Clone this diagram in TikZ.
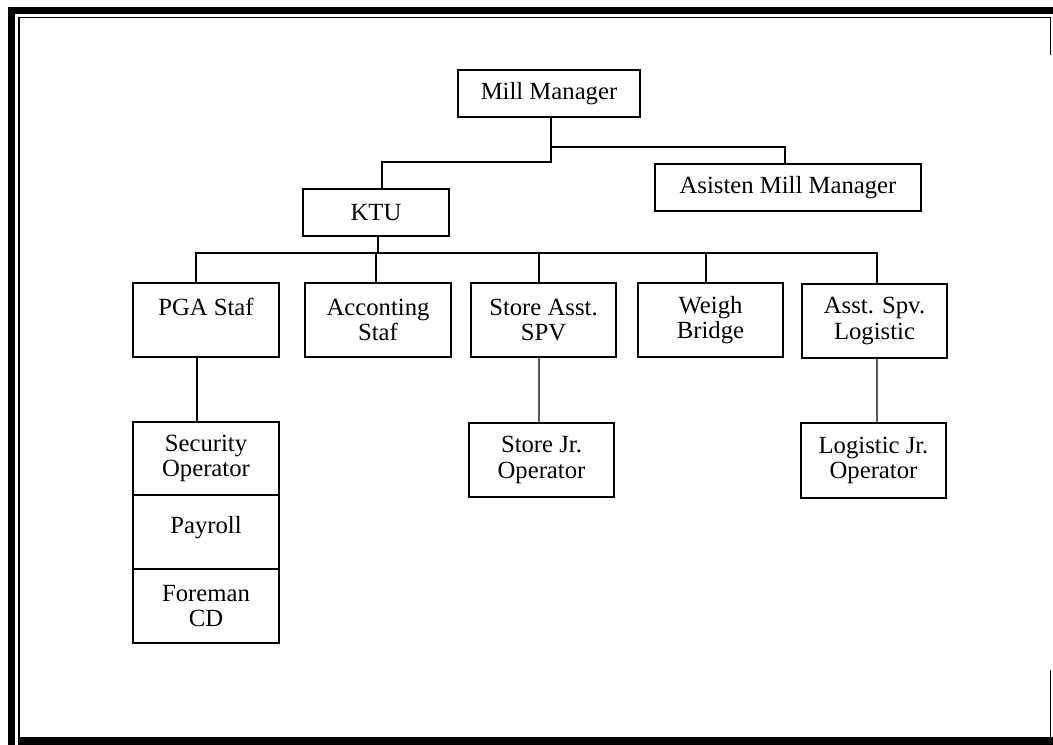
\documentclass[tikz,border=0pt]{standalone}
\usepackage{fontspec}
\setmainfont{Liberation Serif}
\begin{document}
\begin{tikzpicture}[x=1bp,y=-1bp,
  box/.style={draw, line width=1.3bp, inner sep=0pt, outer sep=0pt, align=center,
    font=\fontsize{24.7bp}{25.5bp}\selectfont},
  conn/.style={line width=1.3bp},
  framethin/.style={line width=1.4bp}]
\useasboundingbox (0,0) rectangle (1053,745);
% frame
\fill (8,7) rectangle (15,745);
\fill (8,7) rectangle (1053,14);
\fill (18,737) rectangle (1053,745);
\draw[framethin] (18.8,737) -- (18.8,17.6) -- (1050.6,17.6) -- (1050.6,55);
\draw[framethin] (1050.6,670) -- (1050.6,737);
% nodes
\node[box, minimum width=182bp, minimum height=47bp] (mm) at (549,93.5) {Mill Manager};
\node[box, minimum width=146bp, minimum height=47bp] (ktu) at (376,212.5) {KTU};
\node[box, minimum width=266bp, minimum height=47bp] (amm) at (788,187.5) {Asisten Mill Manager};
\node[box, minimum width=146bp, minimum height=74bp] (pga) at (206,320) {PGA Staf\\~};
\node[box, minimum width=146bp, minimum height=74bp] (acc) at (378,320) {Acconting\\Staf};
\node[box, minimum width=145bp, minimum height=74bp] (sas) at (543.5,320) {Store Asst.\\SPV};
\node[box, minimum width=145bp, minimum height=74bp] (wb) at (710.5,320) {Weigh\\Bridge};
\node[box, minimum width=145bp, minimum height=74bp] (asl) at (874.5,321) {Asst. Spv.\\Logistic};
\node[box, minimum width=146bp, minimum height=73bp] (sec) at (206,458.5) {Security\\Operator};
\node[box, minimum width=146bp, minimum height=74bp, text depth=14.5bp] (pay) at (206,532) {Payroll};
\node[box, minimum width=146bp, minimum height=74bp] (fcd) at (206,606) {Foreman\\CD};
\node[box, minimum width=145bp, minimum height=74bp] (sjr) at (541.5,460) {Store Jr.\\Operator};
\node[box, minimum width=145bp, minimum height=75bp] (ljr) at (873.5,460.5) {Logistic Jr.\\Operator};
% connectors
\draw[conn] ([xshift=2bp]mm.south) -- ++(0,45) -| ([xshift=6bp]ktu.north);
\draw[conn] ([xshift=2bp]mm.south) ++(0,30) -| ([xshift=-3bp]amm.north);
\draw[conn] ([xshift=2bp]ktu.south) -- ++(0,17);
\draw[conn] ([xshift=-10bp]pga.north) -- ++(0,-30) -| ([xshift=2.5bp]asl.north);
\draw[conn] ([xshift=-2bp]acc.north) -- ++(0,-30);
\draw[conn] ([xshift=-4.5bp]sas.north) -- ++(0,-30);
\draw[conn] ([xshift=-4.5bp]wb.north) -- ++(0,-30);
\draw[conn] ([xshift=-9bp]pga.south) -- ([xshift=-9bp]sec.north);
\draw[conn] ([xshift=-4.5bp]sas.south) -- ([xshift=-2.5bp]sjr.north);
\draw[conn] ([xshift=2.5bp]asl.south) -- ([xshift=3.5bp]ljr.north);
\end{tikzpicture}
\end{document}
